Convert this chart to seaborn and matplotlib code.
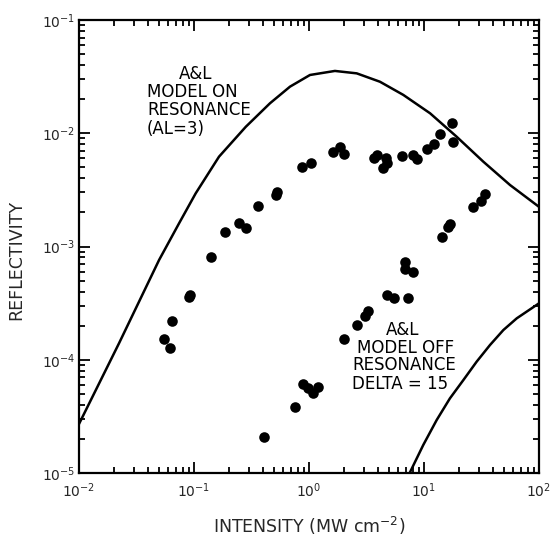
import matplotlib
matplotlib.use("Agg")
import matplotlib.pyplot as plt
import seaborn as sns

# Measured reflectivity vs. laser intensity (MW cm^-2)
intensity = [
    0.0548, 0.0618, 0.0648, 0.0906, 0.0923, 0.140, 0.185, 0.246, 0.282, 0.362,
    0.513, 0.527, 0.865, 1.05, 1.61, 1.86, 2.01, 3.67, 3.93, 4.68,
    4.80, 4.37, 6.40, 7.96, 8.63, 10.7, 12.2, 13.8, 17.4, 18.0,
    0.406, 0.755, 0.887, 0.98, 1.08, 1.20, 2.01, 2.61, 3.07, 3.26,
    4.76, 5.48, 7.26, 6.84, 6.90, 8.00, 14.4, 16.2, 16.8, 26.5,
    31.1, 33.9,
]
reflectivity = [
    1.51e-4, 1.26e-4, 2.21e-4, 3.56e-4, 3.75e-4, 8.1e-4, 1.35e-3, 1.60e-3, 1.45e-3, 2.29e-3,
    2.85e-3, 3.0e-3, 5.0e-3, 5.42e-3, 6.87e-3, 7.51e-3, 6.56e-3, 6.01e-3, 6.43e-3, 6.01e-3,
    5.42e-3, 4.90e-3, 6.30e-3, 6.43e-3, 5.89e-3, 7.26e-3, 7.98e-3, 9.80e-3, 1.23e-2, 8.37e-3,
    2.07e-5, 3.83e-5, 6.1e-5, 5.63e-5, 5.09e-5, 5.74e-5, 1.52e-4, 2.03e-4, 2.43e-4, 2.69e-4,
    3.73e-4, 3.51e-4, 3.51e-4, 7.3e-4, 6.33e-4, 5.96e-4, 1.21e-3, 1.49e-3, 1.58e-3, 2.24e-3,
    2.54e-3, 2.91e-3,
]

# A&L model, on resonance (AL = 3)
on_res_intensity = [0.01, 0.0223, 0.0497, 0.0741, 0.1035, 0.165, 0.282, 0.458, 0.684,
                    1.02, 1.68, 2.60, 4.14, 6.61, 11.3, 19.2, 32.8, 56.0, 100.0]
on_res_reflectivity = [2.71e-5, 1.40e-4, 7.60e-4, 1.60e-3, 2.95e-3, 6.21e-3, 1.14e-2,
                       1.84e-2, 2.58e-2, 3.27e-2, 3.55e-2, 3.38e-2, 2.85e-2, 2.18e-2,
                       1.50e-2, 9.33e-3, 5.61e-3, 3.49e-3, 2.24e-3]

# A&L model, off resonance (delta = 15)
off_res_intensity = [7.5, 9.86, 12.9, 16.8, 22.0, 28.7, 37.5, 49.0, 64.0, 100.0]
off_res_reflectivity = [1.0e-5, 1.77e-5, 2.94e-5, 4.56e-5, 6.62e-5, 9.62e-5, 1.35e-4,
                        1.83e-4, 2.32e-4, 3.15e-4]

sns.set_style("ticks")
plt.rcParams["font.family"] = ["DejaVu Sans"]
plt.rcParams["mathtext.fontset"] = "dejavusans"

W, H = 558, 537
L, R, T, B = 79, 539, 20, 473
fig = plt.figure(figsize=(W / 100, H / 100), dpi=100)
ax = fig.add_axes([L / W, 1 - B / H, (R - L) / W, (B - T) / H])
ax.set_xscale("log")
ax.set_yscale("log")

sns.lineplot(x=on_res_intensity, y=on_res_reflectivity, ax=ax, color="black",
             linewidth=1.8, sort=False, estimator=None)
sns.lineplot(x=off_res_intensity, y=off_res_reflectivity, ax=ax, color="black",
             linewidth=1.8, sort=False, estimator=None)
sns.scatterplot(x=intensity, y=reflectivity, ax=ax, color="black", s=58,
                linewidth=0, zorder=3)

ax.set_xlim(1e-2, 1e2)
ax.set_ylim(1e-5, 1e-1)

for sp in ax.spines.values():
    sp.set_linewidth(1.6)
    sp.set_color("black")

ax.tick_params(which="both", direction="in", top=True, right=True,
               color="black", width=1.3)
ax.tick_params(which="major", length=8, labelsize=10)
ax.tick_params(which="minor", length=4)
ax.tick_params(axis="x", which="major", pad=6)
ax.tick_params(axis="y", which="major", pad=2.5)

ax.set_xlabel("INTENSITY (MW cm$^{-2}$)", fontsize=12.5)
ax.set_ylabel("REFLECTIVITY", fontsize=12.5)
ax.xaxis.set_label_coords(0.5, -0.093)
ax.yaxis.set_label_coords(-0.117, 0.47)


def frac(px, py):
    return (px - L) / (R - L), (B - py) / (B - T)


def note(px, py, s, ha="left"):
    fx, fy = frac(px, py)
    ax.text(fx, fy, s, transform=ax.transAxes, ha=ha, va="baseline",
            fontsize=12, color="black")


note(196, 79, "A&L", ha="center")
note(147, 97, "MODEL ON")
note(147, 115, "RESONANCE")
note(147, 134, "(AL=3)")

note(403, 335, "A&L", ha="center")
note(357, 353, "MODEL OFF")
note(352, 370, "RESONANCE")
note(352, 389, "DELTA = 15")

fig.savefig("out.png", dpi=100)
